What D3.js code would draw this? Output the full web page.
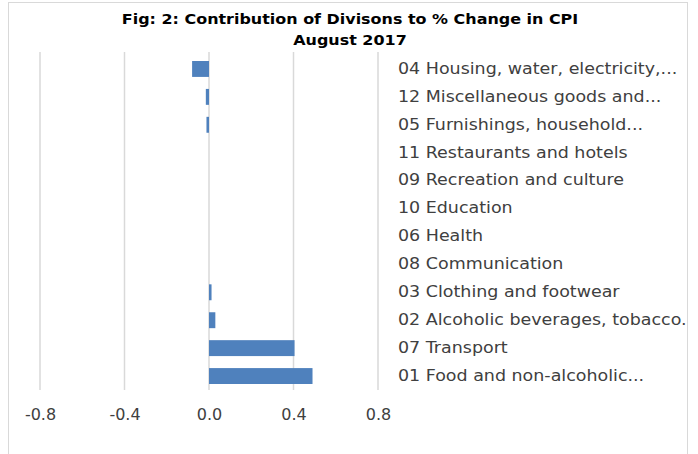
<!DOCTYPE html>
<html>
<head>
<meta charset="utf-8">
<script src="https://cdn.jsdelivr.net/npm/d3@7"></script>
<style>
  body { margin: 0; background: #fff; }
</style>
</head>
<body>
<div id="chart"></div>
<script>
'use strict';

const categories = [
    "04 Housing, water, electricity,...",
    "12 Miscellaneous goods and...",
    "05 Furnishings, household...",
    "11 Restaurants and hotels",
    "09 Recreation and culture",
    "10 Education",
    "06 Health",
    "08 Communication",
    "03 Clothing and footwear",
    "02 Alcoholic beverages, tobacco.",
    "07 Transport",
    "01 Food and non-alcoholic..."
];
const values = [-0.08, -0.015, -0.012, 0, 0, 0, 0, 0, 0.012, 0.03, 0.405, 0.49];
const xTicks = [-0.8, -0.4, 0.0, 0.4, 0.8];
const titleLines = ["Fig: 2: Contribution of Divisons to % Change in CPI", "August 2017"];

const width = 698, height = 454;
const margin = {top: 55, right: 320, bottom: 64, left: 40};

const svg = d3.select("#chart").append("svg")
    .attr("width", width)
    .attr("height", height);

// chart area border
svg.append("rect")
    .attr("x", 8.5).attr("y", 2.5)
    .attr("width", 679).attr("height", 470)
    .attr("fill", "#fff")
    .attr("stroke", "#d9d9d9");

const x = d3.scaleLinear()
    .domain([-0.8, 0.8])
    .range([margin.left, width - margin.right]);

const y = d3.scaleBand()
    .domain(categories)
    .range([margin.top, height - margin.bottom])
    .paddingInner(0.43)
    .paddingOuter(0.215);

// gridlines
svg.append("g")
    .selectAll("line")
    .data(xTicks)
    .enter().append("line")
    .attr("x1", d => x(d)).attr("x2", d => x(d))
    .attr("y1", 52).attr("y2", height - margin.bottom)
    .attr("stroke", "#d9d9d9")
    .attr("stroke-width", 1.5);

// bars
svg.append("g")
    .selectAll("rect")
    .data(values)
    .enter().append("rect")
    .attr("x", d => x(Math.min(0, d)))
    .attr("y", (d, i) => y(categories[i]))
    .attr("width", d => Math.abs(x(d) - x(0)))
    .attr("height", y.bandwidth())
    .attr("fill", "#4f81bd");

// x axis tick labels (plain hyphen for negatives, like the original)
const xAxis = d3.axisBottom(x)
    .tickValues(xTicks)
    .tickFormat(d => d.toFixed(1))
    .tickSize(0)
    .tickPadding(19);

svg.append("g")
    .attr("transform", `translate(0,${height - margin.bottom})`)
    .call(xAxis)
    .call(g => g.select(".domain").remove())
    .selectAll("text")
    .attr("font-family", "DejaVu Sans")
    .attr("font-size", 16)
    .attr("fill", "#404040");

// category labels, placed at the high end
// (the source picture is a bit stretched sideways, so widen the text)
const yAxis = d3.axisRight(y).tickSize(0).tickPadding(0);
svg.append("g")
    .attr("transform", `translate(398,0) scale(1.165,1)`)
    .call(yAxis)
    .call(g => g.select(".domain").remove())
    .selectAll("text")
    .attr("font-family", "DejaVu Sans")
    .attr("font-size", 15)
    .attr("fill", "#404040");

// title
svg.append("text")
    .attr("transform", "translate(350,24) scale(1.1,1)")
    .attr("text-anchor", "middle")
    .attr("font-family", "DejaVu Sans")
    .attr("font-weight", "bold")
    .attr("font-size", 14.5)
    .attr("fill", "#000")
    .selectAll("tspan")
    .data(titleLines)
    .enter().append("tspan")
    .attr("x", 0)
    .attr("dy", (d, i) => i === 0 ? 0 : 21)
    .text(d => d);
</script>
</body>
</html>
